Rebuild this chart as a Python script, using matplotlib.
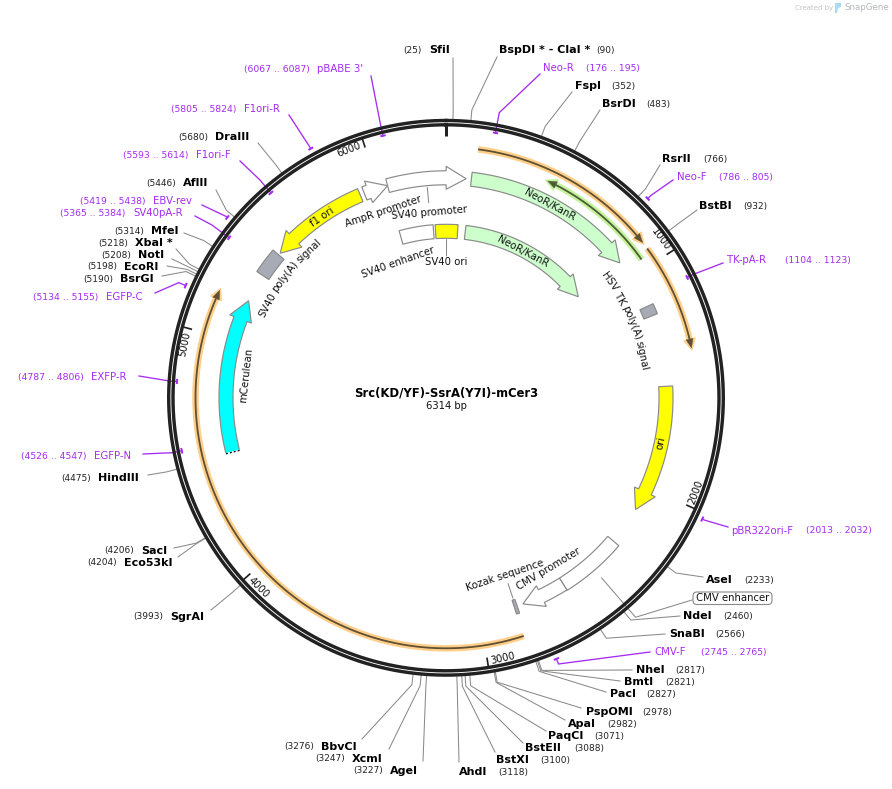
import numpy as np
import matplotlib
matplotlib.use("Agg")
import matplotlib.pyplot as plt
from matplotlib.patches import Polygon, FancyBboxPatch
from matplotlib.textpath import TextPath
from matplotlib.font_manager import FontProperties

# ---------- data ----------
PLASMID_NAME = "Src(KD/YF)-SsrA(Y7I)-mCer3"
PLASMID_LEN = 6314
TICKS = [1000, 2000, 3000, 4000, 5000, 6000]

ENZ_NAMES = ["SfiI", "BspDI * - ClaI *", "FspI", "BsrDI", "RsrII", "BstBI", "AseI", "NdeI", "SnaBI",
             "NheI", "BmtI", "PacI", "PspOMI", "ApaI", "PaqCI", "BstEII", "BstXI", "AhdI",
             "AgeI", "XcmI", "BbvCI", "SgrAI", "Eco53kI", "SacI", "HindIII",
             "BsrGI", "EcoRI", "NotI", "XbaI *", "MfeI", "AflII", "DraIII"]
ENZ_SITES = [25, 90, 352, 483, 766, 932, 2233, 2460, 2566,
             2817, 2821, 2827, 2978, 2982, 3071, 3088, 3100, 3118,
             3227, 3247, 3276, 3993, 4204, 4206, 4475,
             5190, 5198, 5208, 5218, 5314, 5446, 5680]

PRIMER_NAMES = ["Neo-R", "Neo-F", "TK-pA-R", "pBR322ori-F", "CMV-F", "EGFP-N", "EXFP-R", "EGFP-C",
                "SV40pA-R", "EBV-rev", "F1ori-F", "F1ori-R", "pBABE 3'"]
PRIMER_START = [176, 786, 1104, 2013, 2745, 4526, 4787, 5134, 5365, 5419, 5593, 5805, 6067]
PRIMER_END = [195, 805, 1123, 2032, 2765, 4547, 4806, 5155, 5384, 5438, 5614, 5824, 6087]
PRIMER_OUTSIDE = [False, True, False, True, True, False, False, True, False, True, False, True, False]

# features: name, tail, tip (bp, may run past the origin)
ARROW_NAMES = ["f1 ori", "AmpR promoter", "SV40 promoter", "NeoR/KanR", "ori", "CMV promoter", "mCerulean"]
ARROW_TAIL = [5912, 5932, 6044, 116, 1526, 2592, 4485]
ARROW_TIP = [5456, 6044, 6406, 915, 2114, 2798, 5195]
ARROW_COLORS = ["#ffff00", "#ffffff", "#ffffff", "#ccffcc", "#ffff00", "#ffffff", "#00ffff"]

BOX_NAMES = ["HSV TK poly(A) signal", "CMV enhancer", "Kozak sequence", "SV40 poly(A) signal"]
BOX_START = [1150, 2290, 2826, 5327]
BOX_END = [1198, 2592, 2840, 5446]
BOX_COLORS = ["#a6abb5", "#ffffff", "#a6abb5", "#a6abb5"]

INNER_NAMES = ["SV40 enhancer", "SV40 ori"]
INNER_START = [6039, 6251]
INNER_END = [6239, 6384]
INNER_COLORS = ["#ffffff", "#ffff00"]
INNER_ARROW = ("NeoR/KanR", 116, 923)

ORANGE_TAIL = [129, 937, 2840]
ORANGE_TIP = [907, 1377, 5181]
GREEN_TAIL = [960]
GREEN_TIP = [441]

# ---------- layout ----------
CX, CY = 446.0, 397.8
PX = 0.72  # points per pixel at 100 dpi
PURPLE = "#a52bf2"
GREY = "#8a8a8a"
NAME_FS, NUM_FS, PRIM_FS, FEAT_FS = 8.0, 6.5, 7.3, 7.3

# name_x, num_x, y, leader end x, leader end y
ENZ_LAYOUT = [
    (429, 403, 50, 453, 58), (499, 596, 50, 497, 57), (575, 611, 86, 572, 92), (602, 646, 104, 600, 110),
    (662, 703, 159, 660, 165), (699, 743, 206, 697, 210), (706, 744, 580, 703, 577), (683, 723, 616, 680, 616),
    (669, 715, 634, 665, 634), (636, 675, 670, 632, 670), (624, 665, 682, 620, 681), (610, 646, 694, 606, 692),
    (586, 642, 712, 581, 708), (568, 607, 724, 565, 720), (548, 594, 736, 546, 731), (525, 574, 748, 523, 743),
    (496, 540, 760, 495, 752), (459, 498, 772, 459, 762), (390, 353, 771, 423, 761), (352, 315, 759, 389, 749),
    (321, 284, 747, 362, 739), (170, 133, 617, 211, 610), (124, 87, 563, 178, 557), (141, 104, 551, 174, 548),
    (98, 61, 478, 148, 475), (120, 83, 279, 162, 276), (124, 87, 267, 167, 266), (138, 101, 255, 172, 259),
    (135, 98, 243, 176, 249), (151, 114, 231, 184, 233), (183, 146, 183, 216, 190), (215, 178, 137, 258, 143),
]
PRIMER_LAYOUT = [
    (543, 586, 68, 540, 74), (677, 719, 177, 673, 180), (727, 785, 260, 723, 263), (731, 806, 531, 728, 527),
    (654, 701, 652, 650, 652), (94, 21, 456, 143, 454), (91, 18, 377, 139, 376), (106, 33, 297, 155, 293),
    (133, 60, 213, 195, 216), (153, 80, 201, 202, 205), (196, 123, 155, 240, 161), (244, 171, 109, 289, 115),
    (317, 244, 69, 371, 76),
]
PRIMER_ELBOW_R = [290, 288, 277, 286, 289, 279, 277, 291, 291, 285, 287, 284, 277]
ARROW_TRACK = dict(r_in=213, r_out=227, half=11.5, head=20)
INNER_TRACK = dict(r_in=159.5, r_out=173.5, half=11, head=20)


def ang(bp):
    return 2 * np.pi * np.asarray(bp, dtype=float) / PLASMID_LEN


def pol(bp, r):
    a = ang(bp)
    return CX + r * np.sin(a), CY - r * np.cos(a)


def arc(b0, b1, r, n=60):
    x, y = pol(np.linspace(b0, b1, n), r)
    return np.column_stack([x, y])


def px2bp(px, r):
    return px / r * PLASMID_LEN / (2 * np.pi)


fig = plt.figure(figsize=(8.92, 7.89), dpi=100)
ax = fig.add_axes([0, 0, 1, 1])
ax.set_xlim(0, 892)
ax.set_ylim(789, 0)
ax.axis("off")


def rot_at(deg):
    deg = deg % 360
    return 180 - deg if 90 < deg < 270 else -deg


def curved(s, mid_deg, r, fs=FEAT_FS, words=False, **kw):
    """Text following the circle; long labels go word by word along the arc."""
    bp_mid = mid_deg / 360 * PLASMID_LEN
    flip = 90 < (mid_deg % 360) < 270
    if not words:
        x, y = pol(bp_mid, r)
        ax.text(x, y, s, fontsize=fs, rotation=rot_at(mid_deg), rotation_mode="anchor",
                ha="center", va="center", color="#111111", zorder=9, **kw)
        return
    fp = FontProperties(family="DejaVu Sans", size=fs)
    scale = 100 / 72
    w = lambda t: TextPath((0, 0), t, prop=fp).get_extents().width * scale
    toks = s.split(" ")
    sp = fs * scale * 0.318
    widths = [w(t) for t in toks]
    total = sum(widths) + sp * (len(toks) - 1)
    pos = -total / 2
    for t, wd in zip(toks, widths):
        off = pos + wd / 2
        deg = mid_deg + (-1 if flip else 1) * np.degrees(off / r)
        x, y = pol(deg / 360 * PLASMID_LEN, r)
        ax.text(x, y, t, fontsize=fs, rotation=rot_at(deg), rotation_mode="anchor",
                ha="center", va="center", color="#111111", zorder=9)
        pos += wd + sp


def arrow_poly(tail, tip, r_in, r_out, half, head):
    rc = (r_in + r_out) / 2
    sgn = 1 if tip > tail else -1
    base = tip - sgn * px2bp(head, rc)
    outer = arc(tail, base, r_out, 50)
    inner = arc(base, tail, r_in, 50)
    pts = [outer, np.array([pol(base, rc + half)]), np.array([pol(tip, rc)]), np.array([pol(base, rc - half)]), inner]
    return np.vstack(pts)


def box_poly(b0, b1, r_in, r_out):
    return np.vstack([arc(b0, b1, r_out, 30), arc(b1, b0, r_in, 30)])


def thin_arrow(tail, tip, r, halo, dark):
    sgn = 1 if tip > tail else -1
    base = tip - sgn * px2bp(9, r)
    p = arc(tail, base, r, 120)
    ax.plot(p[:, 0], p[:, 1], color=halo, lw=6.5 * PX, solid_capstyle="butt", zorder=4)
    ax.add_patch(Polygon([pol(base, r + 6), pol(tip + sgn * px2bp(2.5, r), r), pol(base, r - 6)],
                         closed=True, fc=halo, ec=halo, lw=0.6, zorder=4))
    ax.plot(p[:, 0], p[:, 1], color=dark, lw=1.8 * PX, solid_capstyle="butt", zorder=5)
    ax.add_patch(Polygon([pol(base, r + 3.5), pol(tip, r), pol(base, r - 3.5)],
                         closed=True, fc=dark, ec=dark, lw=0.3, zorder=5))


# ---------- enzyme leaders ----------
for site, (nx, ux, y, ex, ey) in zip(ENZ_SITES, ENZ_LAYOUT):
    a = pol(site, 277)
    b = pol(site, 289)
    ax.plot([a[0], b[0], ex], [a[1], b[1], ey], color=GREY, lw=0.75, zorder=1)

for name, site, (nx, ux, y, ex, ey) in zip(ENZ_NAMES, ENZ_SITES, ENZ_LAYOUT):
    ax.text(nx, y, name, fontsize=NAME_FS, fontweight="bold", ha="left", va="center", color="black")
    ax.text(ux, y, f"({site})", fontsize=NUM_FS, ha="left", va="center", color="#222222")

# ---------- primers ----------
for name, s, e, out, r_el, (nx, ux, y, ex, ey) in zip(PRIMER_NAMES, PRIMER_START, PRIMER_END, PRIMER_OUTSIDE,
                                                      PRIMER_ELBOW_R, PRIMER_LAYOUT):
    mid = (s + e) / 2
    r_tick = 283.5 if out else 269.5
    a = pol(mid, r_tick)
    b = pol(mid, r_el)
    ax.plot([a[0], b[0], ex], [a[1], b[1], ey], color=PURPLE, lw=0.95, zorder=1)
    t = arc(s, e, r_tick, 8)
    ax.plot(t[:, 0], t[:, 1], color=PURPLE, lw=2.0 * PX, solid_capstyle="butt", zorder=3)
    ax.text(nx, y, name, fontsize=PRIM_FS, ha="left", va="center", color=PURPLE)
    ax.text(ux, y, f"({s} .. {e})", fontsize=6.65, ha="left", va="center", color=PURPLE)

# ---------- CMV enhancer callout ----------
mid_cmv = (BOX_START[1] + BOX_END[1]) / 2
a, b = pol(mid_cmv, 238), pol(mid_cmv, 290)
ax.plot([a[0], b[0], 692], [a[1], b[1], 600], color=GREY, lw=0.75, zorder=1)
ax.add_patch(FancyBboxPatch((693, 592), 79, 12.5, boxstyle="round,pad=0,rounding_size=4",
                            fc="white", ec=GREY, lw=0.8, zorder=2))
ax.text(732.5, 598.3, BOX_NAMES[1], fontsize=FEAT_FS, ha="center", va="center", color="#111111", zorder=3)

# ---------- ring ----------
for r in (277.3, 273.0):
    p = arc(0, PLASMID_LEN, r, 720)
    ax.plot(p[:, 0], p[:, 1], color="#222222", lw=3.4 * PX, zorder=2)

a, b = pol(0, 272), pol(0, 262)
ax.plot([a[0], b[0]], [a[1], b[1]], color="#222222", lw=3 * PX, solid_capstyle="butt", zorder=2)
for tk in TICKS:
    a, b = pol(tk, 272), pol(tk, 263)
    ax.plot([a[0], b[0]], [a[1], b[1]], color="#222222", lw=1.7 * PX, solid_capstyle="butt", zorder=2)
    deg = tk / PLASMID_LEN * 360
    curved(str(tk), deg - 3.4, 266.5, fs=7.2)

# ---------- thin annotation arrows ----------
for t0, t1 in zip(ORANGE_TAIL, ORANGE_TIP):
    thin_arrow(t0, t1, 250.5, "#ffcf8a", "#5f4f33")
for t0, t1 in zip(GREEN_TAIL, GREEN_TIP):
    thin_arrow(t0, t1, 239.5, "#c3f39a", "#4d5a35")

# ---------- features ----------
for col, t0, t1 in zip(ARROW_COLORS, ARROW_TAIL, ARROW_TIP):
    ax.add_patch(Polygon(arrow_poly(t0, t1, **ARROW_TRACK), closed=True, fc=col, ec=GREY, lw=0.85, zorder=6))
for col, s, e in zip(BOX_COLORS, BOX_START, BOX_END):
    ax.add_patch(Polygon(box_poly(s, e, 213, 227.5), closed=True, fc=col, ec=GREY, lw=0.85, zorder=6))
for col, s, e in zip(INNER_COLORS, INNER_START, INNER_END):
    ax.add_patch(Polygon(box_poly(s, e, 159.5, 173.5), closed=True, fc=col, ec=GREY, lw=0.85, zorder=6))
ax.add_patch(Polygon(arrow_poly(INNER_ARROW[1], INNER_ARROW[2], **INNER_TRACK), closed=True,
                     fc="#ccffcc", ec=GREY, lw=0.85, zorder=6))

# dotted tail of mCerulean
i_m = ARROW_NAMES.index("mCerulean")
a, b = pol(ARROW_TAIL[i_m], 213), pol(ARROW_TAIL[i_m], 227)
ax.plot([a[0], b[0]], [a[1], b[1]], color="white", lw=1.2, zorder=7)
ax.plot([a[0], b[0]], [a[1], b[1]], color="#111111", lw=0.9, ls=(0, (1.6, 1.6)), zorder=8)

# connectors from features to their labels
for bp, r0, r1 in [((ARROW_TAIL[2] + ARROW_TIP[2]) / 2, 211, 196),
                   ((INNER_START[1] + INNER_END[1]) / 2, 158, 142),
                   ((BOX_START[2] + BOX_END[2]) / 2, 211, 196)]:
    a, b = pol(bp, r0), pol(bp, r1)
    ax.plot([a[0], b[0]], [a[1], b[1]], color=GREY, lw=0.75, zorder=6)

# ---------- feature labels ----------
curved(ARROW_NAMES[0], -34.4, 219)
curved(ARROW_NAMES[1], -18.6, 197)
curved(ARROW_NAMES[2], -5.0, 185.5)
curved(ARROW_NAMES[3], 28.3, 219)
curved(INNER_ARROW[0], 27.8, 165)
curved(INNER_NAMES[0], -19.4, 144)
curved(INNER_NAMES[1], 0.0, 136)
curved(BOX_NAMES[0], 66.9, 200, words=True)
curved(ARROW_NAMES[4], 101.8, 220)
curved(ARROW_NAMES[5], 149.0, 200)
curved(BOX_NAMES[2], 161.6, 187)
curved(ARROW_NAMES[6], -83.7, 201)
curved(BOX_NAMES[3], -52.5, 201, words=True)

# ---------- centre ----------
ax.text(446, 393, PLASMID_NAME, fontsize=8.4, fontweight="bold", ha="center", va="center", color="black")
ax.text(446, 405.5, f"{PLASMID_LEN} bp", fontsize=7.2, ha="center", va="center", color="#111111")

# ---------- watermark ----------
ax.text(795, 7.5, "Created by", fontsize=5.0, ha="left", va="center", color="#c4c4c4")
ax.text(844, 7.5, "SnapGene", fontsize=6.2, ha="left", va="center", color="#b4b8bc")
ax.add_patch(Polygon([(835, 3), (841, 3), (841, 7), (838, 8), (837, 13), (835, 13)], closed=True,
                     fc="#a9dcf2", ec="none"))

fig.savefig("out.png", dpi=100)
